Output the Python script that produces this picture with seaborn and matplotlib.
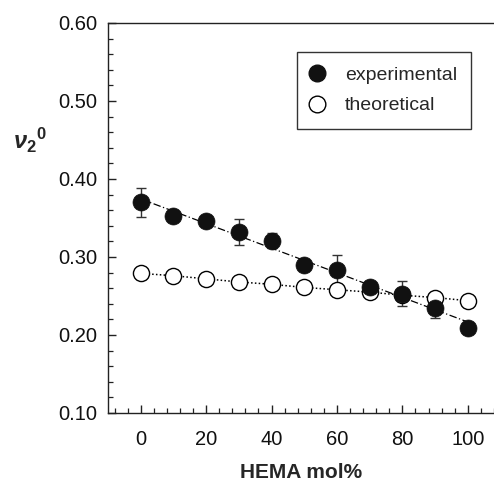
import numpy as np
import pandas as pd
import matplotlib
matplotlib.use("Agg")
import matplotlib.pyplot as plt
import seaborn as sns
from matplotlib.ticker import MultipleLocator
from matplotlib.lines import Line2D

hema = [0, 10, 20, 30, 40, 50, 60, 70, 80, 90, 100]
experimental = [0.370, 0.352, 0.346, 0.332, 0.321, 0.290, 0.283, 0.261, 0.253, 0.234, 0.209]
exp_error = [0.019, 0.0, 0.0, 0.017, 0.010, 0.0, 0.019, 0.0, 0.016, 0.012, 0.0]
theoretical = [0.279, 0.276, 0.272, 0.268, 0.265, 0.261, 0.258, 0.255, 0.251, 0.248, 0.244]

sns.set_theme(style="ticks")
plt.rcParams['font.family'] = ['Liberation Sans', 'DejaVu Sans']
plt.rcParams['mathtext.fontset'] = 'custom'
plt.rcParams['mathtext.it'] = 'Liberation Sans:italic:bold'
plt.rcParams['mathtext.rm'] = 'Liberation Sans:bold'
plt.rcParams['mathtext.bf'] = 'Liberation Sans:bold'

df = pd.DataFrame({"hema": hema, "exp": experimental, "err": exp_error, "theo": theoretical})

fig = plt.figure(figsize=(4.94, 4.82), dpi=100)
ax = fig.add_axes([108 / 494, 1 - 413 / 482, 386 / 494, 390 / 482])

# linear fit line for experimental
coef = np.polyfit(df["hema"], df["exp"], 1)
xfit = np.array([0, 100])
ax.plot(xfit, np.polyval(coef, xfit), color="black", lw=0.9, ls=(0, (6, 2, 1, 2)), zorder=1)

# theoretical dotted connection
sns.lineplot(data=df, x="hema", y="theo", ax=ax, color="black", lw=1.1,
             linestyle=(0, (1, 1.5)), zorder=1, legend=False)

# error bars
ax.errorbar(df["hema"], df["exp"], yerr=df["err"], fmt="none", ecolor="#333333",
            elinewidth=1.0, capsize=3.5, capthick=1.0, zorder=2)

sns.scatterplot(data=df, x="hema", y="theo", ax=ax, marker="o", s=135,
                facecolor="white", edgecolor="black", linewidth=1.0, zorder=3)
sns.scatterplot(data=df, x="hema", y="exp", ax=ax, marker="o", s=150,
                color="#111111", edgecolor="#111111", linewidth=0.5, zorder=4)

ax.set_xlim(-10, 108)
ax.set_ylim(0.10, 0.60)
ax.set_xticks([0, 20, 40, 60, 80, 100])
ax.set_yticks([0.10, 0.20, 0.30, 0.40, 0.50, 0.60])
ax.set_yticklabels(["0.10", "0.20", "0.30", "0.40", "0.50", "0.60"])
ax.xaxis.set_minor_locator(MultipleLocator(4))
ax.yaxis.set_minor_locator(MultipleLocator(0.02))
ax.tick_params(which="major", direction="in", length=6, width=1.0, labelsize=14.5,
               color="#222222", labelcolor="#111111")
ax.tick_params(axis="x", which="major", pad=12)
ax.tick_params(axis="y", which="major", pad=8)
ax.tick_params(which="minor", direction="in", length=3.5, width=0.9, color="#222222")
ax.tick_params(top=False, right=False, which="both")

for s in ["left", "bottom", "top"]:
    ax.spines[s].set_linewidth(1.0)
    ax.spines[s].set_color("#222222")
ax.spines["right"].set_visible(False)

ax.set_xlabel("HEMA mol%", fontsize=15, fontweight="bold", labelpad=10)
ax.set_ylabel("")
fig.text(30 / 494, 1 - 140 / 482, r"$\mathit{\nu}_{\mathrm{2}}{}^{\mathrm{0}}$",
         fontsize=17, ha="center", va="center")

handles = [
    Line2D([], [], marker="o", ls="none", markersize=12, markerfacecolor="#111111",
           markeredgecolor="#111111"),
    Line2D([], [], marker="o", ls="none", markersize=12, markerfacecolor="white",
           markeredgecolor="black", markeredgewidth=1.0),
]
leg = ax.legend(handles, ["experimental", "theoretical"], loc="upper left",
                bbox_to_anchor=((297 - 108) / 386, 1 - (52 - 23) / 390),
                borderaxespad=0.0,
                fontsize=14, frameon=True, fancybox=False, edgecolor="black",
                borderpad=0.75, handletextpad=1.1, labelspacing=0.65, handlelength=0.6)
leg.get_frame().set_linewidth(1.0)

fig.savefig("out.png", dpi=100)
